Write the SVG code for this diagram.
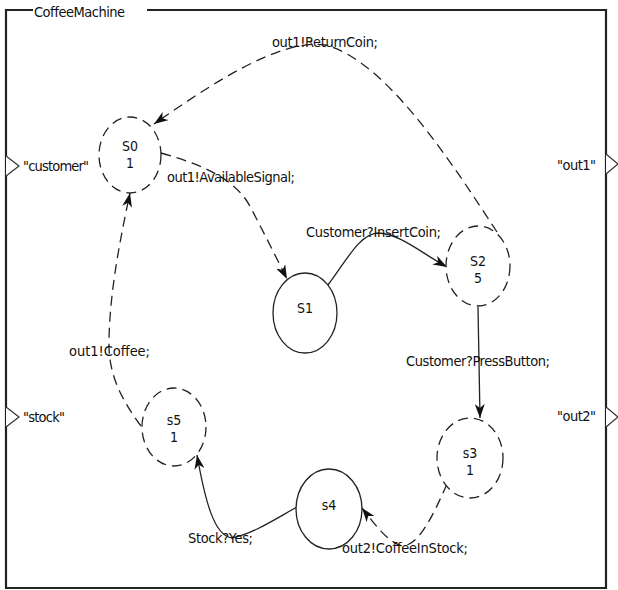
<svg xmlns="http://www.w3.org/2000/svg" width="618" height="590" viewBox="0 0 618 590">
  <style>
    text { font-family: "DejaVu Sans Condensed", "DejaVu Sans", sans-serif; font-size: 14.5px; fill: #111; }
    .lbl { text-anchor: middle; font-size: 14px; }
    .frame { fill: none; stroke: #222; stroke-width: 2.2; }
    .port { fill: #fff; stroke: #333; stroke-width: 1.2; }
    .state { fill: #fff; stroke: #222; stroke-width: 1.3; }
    .committed { stroke-dasharray: 10 6; }
    .edge { fill: none; stroke: #222; stroke-width: 1.3; marker-end: url(#arrow); }
    .dashed { stroke-dasharray: 10 6; }
  </style>
  <defs>
    <marker id="arrow" viewBox="0 0 14 10" refX="14" refY="5" markerWidth="14" markerHeight="10" markerUnits="userSpaceOnUse" orient="auto">
      <path d="M0,0 L14,5 L0,10 L4,5 Z" fill="#111"/>
    </marker>
  </defs>

  <rect width="618" height="590" fill="#fff"/>

  <!-- capsule frame with title -->
  <g id="frame">
    <path class="frame" d="M33 10 H6 V588 H606 V10 H147"/>
    <text x="34" y="17" textLength="91">CoffeeMachine</text>
  </g>

  <!-- ports -->
  <g id="port-customer">
    <path class="port" d="M6 156 L19 166 L6 176"/>
    <text x="23" y="171" textLength="66">"customer"</text>
  </g>
  <g id="port-stock">
    <path class="port" d="M6 407 L19 417 L6 427"/>
    <text x="23" y="422" textLength="42">"stock"</text>
  </g>
  <g id="port-out1">
    <path class="port" d="M606 154 L618 164 L606 174"/>
    <text x="557" y="170" textLength="39">"out1"</text>
  </g>
  <g id="port-out2">
    <path class="port" d="M606 407 L618 417 L606 427"/>
    <text x="557" y="421" textLength="39">"out2"</text>
  </g>

  <!-- transitions -->
  <g id="connectors">
    <path class="edge dashed" d="M497 232 C450 160, 385 60, 325 45 C280 38, 210 85, 154 124"/>
    <path class="edge dashed" d="M161 153 C215 168, 240 185, 252 210 C265 235, 275 255, 287 279"/>
    <path class="edge" d="M328 285 C348 258, 360 234, 378 233 C398 233, 420 252, 447 267"/>
    <path class="edge" d="M478 307 L480 418"/>
    <path class="edge dashed" d="M447 484 C432 518, 418 546, 402 546 C388 542, 376 526, 362 508"/>
    <path class="edge" d="M297 507 C272 521, 252 534, 232 538 C214 536, 205 500, 197 455"/>
    <path class="edge dashed" d="M141 426 C118 395, 108 370, 109 340 C110 290, 120 240, 130 193"/>

    <text x="272" y="47" textLength="106">out1!ReturnCoin;</text>
    <text x="167" y="182" textLength="128">out1!AvailableSignal;</text>
    <text x="306" y="237" textLength="135">Customer?InsertCoin;</text>
    <text x="406" y="366" textLength="144">Customer?PressButton;</text>
    <text x="69" y="356" textLength="81">out1!Coffee;</text>
    <text x="188" y="543" textLength="65">Stock?Yes;</text>
    <text x="342" y="553" textLength="126">out2!CoffeeInStock;</text>
  </g>

  <!-- states -->
  <g id="S0">
    <ellipse class="state committed" cx="130" cy="155" rx="31" ry="38"/>
    <text class="lbl" x="130" y="151">S0</text>
    <text class="lbl" x="130" y="168">1</text>
  </g>
  <g id="S1">
    <ellipse class="state" cx="305" cy="313" rx="32" ry="40"/>
    <text class="lbl" x="305" y="313">S1</text>
  </g>
  <g id="S2">
    <ellipse class="state committed" cx="478" cy="266" rx="32" ry="40"/>
    <text class="lbl" x="478" y="266">S2</text>
    <text class="lbl" x="478" y="283">5</text>
  </g>
  <g id="s3">
    <ellipse class="state committed" cx="470" cy="458" rx="33" ry="40"/>
    <text class="lbl" x="470" y="458">s3</text>
    <text class="lbl" x="470" y="475">1</text>
  </g>
  <g id="s4">
    <ellipse class="state" cx="329" cy="509" rx="33" ry="40"/>
    <text class="lbl" x="329" y="510">s4</text>
  </g>
  <g id="s5">
    <ellipse class="state committed" cx="174" cy="427" rx="32" ry="39"/>
    <text class="lbl" x="174" y="425">s5</text>
    <text class="lbl" x="174" y="442">1</text>
  </g>
</svg>
